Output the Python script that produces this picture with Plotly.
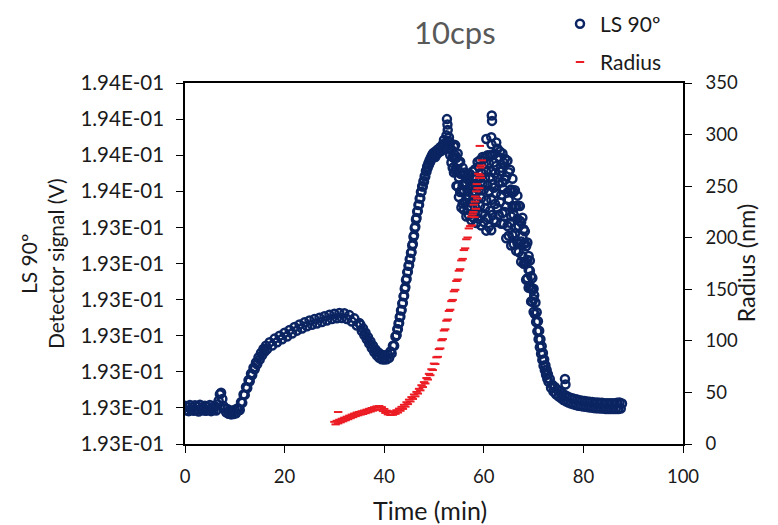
import plotly.graph_objects as go

# ---------------- data: LS 90º detector signal (V) ----------------
LS_TIME = [
    # baseline + small bump
    0.0, 0.25, 0.5, 0.75, 1.0, 1.25, 1.5, 1.75, 2.0, 2.25, 2.5, 2.75, 3.0, 3.25, 3.5, 3.75,
    4.0, 4.25, 4.5, 4.75, 5.0, 5.25, 5.5, 5.75, 6.0, 6.25, 6.5, 6.75, 7.0, 7.25, 7.5, 7.75,
    8.0, 8.25, 8.5, 8.75, 9.0, 9.25, 9.5, 9.75, 10.0, 10.25, 10.5,
    # first rise
    10.75, 11.0, 11.25, 11.5, 11.75, 12.0, 12.25, 12.5, 12.75, 13.0, 13.25, 13.5, 13.75, 14.0,
    14.25, 14.5, 14.75, 15.0, 15.25, 15.5, 15.75, 16.0, 16.25,
    # first hump
    16.5, 17.0, 17.5, 18.0, 18.5, 19.0, 19.5, 20.0, 20.5, 21.0, 21.5, 22.0, 22.5, 23.0, 23.5,
    24.0, 24.5, 25.0, 25.5, 26.0, 26.5, 27.0, 27.5, 28.0, 28.5, 29.0, 29.5, 30.0, 30.5, 31.0,
    31.5, 32.0, 32.5, 33.0, 33.5, 34.0, 34.5, 35.0,
    # valley
    35.25, 35.5, 35.75, 36.0, 36.25, 36.5, 36.75, 37.0, 37.25, 37.5, 37.75, 38.0, 38.25, 38.5,
    38.75, 39.0, 39.25, 39.5, 39.75, 40.0, 40.25, 40.5, 40.75, 41.0, 41.25, 41.5, 41.75, 42.0,
    42.25, 42.5,
    # steep rise
    42.625, 42.75, 42.875, 43.0, 43.125, 43.25, 43.375, 43.5, 43.625, 43.75, 43.875, 44.0,
    44.125, 44.25, 44.375, 44.5, 44.625, 44.75, 44.875, 45.0, 45.125, 45.25, 45.375, 45.5,
    45.625, 45.75, 45.875, 46.0, 46.125, 46.25, 46.375, 46.5, 46.625, 46.75, 46.875, 47.0,
    47.125, 47.25, 47.375, 47.5, 47.625, 47.75, 47.875, 48.0, 48.125, 48.25, 48.375, 48.5,
    48.625, 48.75, 48.875, 49.0, 49.125, 49.25, 49.375, 49.5, 49.625, 49.75, 49.875, 50.0,
    # main peak
    50.25, 50.25, 50.5, 50.75, 51.0, 51.25, 51.5, 51.75, 52.0, 52.0, 52.25, 52.5, 52.5, 52.75,
    52.75, 52.6, 52.7, 53.0, 53.0, 53.25, 53.25, 53.5, 53.5, 53.75, 53.75,
    # decay after the noisy region
    70.125, 70.25, 70.375, 70.5, 70.625, 70.75, 70.875, 71.0, 71.125, 71.25, 71.375, 71.5,
    71.625, 71.75, 71.875, 72.0, 72.125, 72.25, 72.375, 72.5, 72.625, 72.75, 72.875, 73.0,
    73.25, 73.5, 73.75, 74.0,
    # tail
    74.25, 74.5, 74.75, 75.0, 75.25, 75.5, 75.75, 76.0, 76.25, 76.5, 76.75, 77.0, 77.25, 77.5,
    77.75, 78.0, 78.25, 78.5, 78.75, 79.0, 79.25, 79.5, 79.75, 80.0, 80.25, 80.5, 80.75, 81.0,
    81.25, 81.5, 81.75, 82.0, 82.25, 82.5, 82.75, 83.0, 83.25, 83.5, 83.75, 84.0, 84.25, 84.5,
    84.75, 85.0, 85.25, 85.5, 85.75, 86.0, 86.25, 86.5, 86.75, 87.0, 87.25, 87.5, 87.75,
]
LS_SIGNAL = [
    0.192946, 0.192933, 0.192943, 0.192931, 0.192948, 0.192935, 0.192942, 0.192932, 0.192947, 0.192934,
    0.192944, 0.192930, 0.192949, 0.192936, 0.192941, 0.192933, 0.192946, 0.192932, 0.192943, 0.192935,
    0.192948, 0.192931, 0.192942, 0.192934, 0.192945, 0.192933, 0.192950, 0.192960, 0.192978, 0.192982,
    0.192965, 0.192945, 0.192938, 0.192928, 0.192937, 0.192924, 0.192933, 0.192922, 0.192932, 0.192923,
    0.192935, 0.192925, 0.192938,
    0.192938, 0.192934, 0.192956, 0.192954, 0.192977, 0.192976, 0.192998, 0.192995, 0.193017, 0.193014,
    0.193035, 0.193031, 0.193051, 0.193047, 0.193066, 0.193061, 0.193080, 0.193074, 0.193092, 0.193086,
    0.193103, 0.193096, 0.193112,
    0.193103, 0.193122, 0.193113, 0.193132, 0.193122, 0.193140, 0.193130, 0.193148, 0.193138, 0.193156,
    0.193146, 0.193164, 0.193154, 0.193171, 0.193160, 0.193177, 0.193166, 0.193182, 0.193170, 0.193186,
    0.193174, 0.193190, 0.193178, 0.193194, 0.193182, 0.193198, 0.193186, 0.193201, 0.193188, 0.193203,
    0.193189, 0.193202, 0.193186, 0.193197, 0.193179, 0.193188, 0.193168, 0.193175,
    0.193170, 0.193153, 0.193160, 0.193142, 0.193148, 0.193130, 0.193136, 0.193118, 0.193124, 0.193106,
    0.193112, 0.193095, 0.193102, 0.193086, 0.193094, 0.193079, 0.193089, 0.193075, 0.193086, 0.193074,
    0.193086, 0.193075, 0.193088, 0.193079, 0.193096, 0.193091, 0.193112, 0.193112, 0.193138, 0.193141,
    0.193158, 0.193158, 0.193174, 0.193175, 0.193192, 0.193193, 0.193210, 0.193211, 0.193229, 0.193231,
    0.193249, 0.193251, 0.193270, 0.193274, 0.193294, 0.193298, 0.193316, 0.193317, 0.193334, 0.193335,
    0.193352, 0.193353, 0.193370, 0.193371, 0.193390, 0.193394, 0.193414, 0.193418, 0.193438, 0.193442,
    0.193462, 0.193466, 0.193484, 0.193485, 0.193502, 0.193503, 0.193520, 0.193521, 0.193538, 0.193539,
    0.193554, 0.193553, 0.193568, 0.193567, 0.193582, 0.193581, 0.193596, 0.193595, 0.193609, 0.193606,
    0.193618, 0.193614, 0.193626, 0.193622, 0.193634, 0.193630, 0.193641, 0.193636, 0.193646, 0.193640,
    0.193650, 0.193635, 0.193642, 0.193656, 0.193648, 0.193662, 0.193652, 0.193670, 0.193658, 0.193682,
    0.193670, 0.193695, 0.193665, 0.193710, 0.193680, 0.193740, 0.193725, 0.193690, 0.193660, 0.193675,
    0.193640, 0.193655, 0.193620, 0.193635, 0.193605,
    0.193252, 0.193200, 0.193232, 0.193178, 0.193205, 0.193152, 0.193180, 0.193130, 0.193154, 0.193108,
    0.193130, 0.193090, 0.193111, 0.193073, 0.193092, 0.193057, 0.193074, 0.193044, 0.193058, 0.193032,
    0.193045, 0.193021, 0.193033, 0.193012, 0.193020, 0.192996, 0.193004, 0.192985,
    0.192998, 0.192978, 0.192991, 0.192972, 0.192986, 0.192967, 0.192981, 0.192962, 0.192976, 0.192958,
    0.192972, 0.192955, 0.192969, 0.192952, 0.192967, 0.192950, 0.192965, 0.192948, 0.192963, 0.192946,
    0.192961, 0.192945, 0.192960, 0.192944, 0.192959, 0.192943, 0.192958, 0.192942, 0.192957, 0.192941,
    0.192956, 0.192940, 0.192955, 0.192939, 0.192955, 0.192939, 0.192954, 0.192938, 0.192954, 0.192938,
    0.192953, 0.192937, 0.192953, 0.192937, 0.192953, 0.192937, 0.192953, 0.192937, 0.192953, 0.192937,
    0.192954, 0.192937, 0.192955, 0.192938, 0.192952,
]

# noisy region after the main peak: low / middle / high readings at each time
PEAK_TIME = [
    54.0, 54.25, 54.5, 54.75, 55.0, 55.25, 55.5, 55.75, 56.0, 56.25, 56.5, 56.75, 57.0, 57.25,
    57.5, 57.75, 58.0, 58.25, 58.5, 58.75, 59.0, 59.25, 59.5, 59.75, 60.0, 60.25, 60.5, 60.75,
    61.0, 61.25, 61.5, 61.75, 62.0, 62.25, 62.5, 62.75, 63.0, 63.25, 63.5, 63.75, 64.0, 64.25,
    64.5, 64.75, 65.0, 65.25, 65.5, 65.75, 66.0, 66.25, 66.5, 66.75, 67.0, 67.25, 67.5, 67.75,
    68.0, 68.25, 68.5, 68.75, 69.0, 69.25, 69.5, 69.75, 70.0,
]
PEAK_LOW = [
    0.193592, 0.193598, 0.193555, 0.193554, 0.193524, 0.193538, 0.193495, 0.193506, 0.193489, 0.193508,
    0.193470, 0.193489, 0.193474, 0.193496, 0.193460, 0.193480, 0.193466, 0.193496, 0.193452, 0.193481,
    0.193464, 0.193500, 0.193445, 0.193478, 0.193455, 0.193493, 0.193431, 0.193467, 0.193442, 0.193486,
    0.193432, 0.193475, 0.193460, 0.193505, 0.193455, 0.193493, 0.193475, 0.193510, 0.193450, 0.193480,
    0.193451, 0.193483, 0.193410, 0.193444, 0.193417, 0.193453, 0.193390, 0.193418, 0.193394, 0.193424,
    0.193375, 0.193396, 0.193372, 0.193394, 0.193345, 0.193360, 0.193339, 0.193345, 0.193295, 0.193299,
    0.193273, 0.193278, 0.193235, 0.193234, 0.193206,
]
PEAK_MID = [
    0.193632, 0.193640, 0.193595, 0.193601, 0.193578, 0.193589, 0.193543, 0.193557, 0.193543, 0.193559,
    0.193518, 0.193540, 0.193528, 0.193551, 0.193512, 0.193539, 0.193529, 0.193560, 0.193516, 0.193553,
    0.193545, 0.193576, 0.193521, 0.193559, 0.193545, 0.193578, 0.193515, 0.193556, 0.193541, 0.193579,
    0.193516, 0.193560, 0.193550, 0.193590, 0.193535, 0.193578, 0.193565, 0.193595, 0.193530, 0.193565,
    0.193545, 0.193572, 0.193498, 0.193537, 0.193516, 0.193542, 0.193470, 0.193499, 0.193475, 0.193496,
    0.193439, 0.193464, 0.193444, 0.193458, 0.193401, 0.193415, 0.193393, 0.193396, 0.193343, 0.193350,
    0.193323, 0.193320, 0.193271, 0.193268, 0.193242,
]
PEAK_HIGH = [
    0.193664, 0.193668, 0.193633, 0.193645, 0.193620, 0.193622, 0.193588, 0.193605, 0.193585, 0.193592,
    0.193563, 0.193588, 0.193570, 0.193587, 0.193561, 0.193595, 0.193578, 0.193601, 0.193576, 0.193621,
    0.193608, 0.193626, 0.193592, 0.193635, 0.193615, 0.193633, 0.193594, 0.193640, 0.193618, 0.193640,
    0.193595, 0.193640, 0.193620, 0.193645, 0.193610, 0.193658, 0.193635, 0.193650, 0.193605, 0.193645,
    0.193619, 0.193630, 0.193581, 0.193625, 0.193593, 0.193600, 0.193545, 0.193575, 0.193538, 0.193543,
    0.193499, 0.193528, 0.193500, 0.193499, 0.193454, 0.193467, 0.193435, 0.193429, 0.193388, 0.193398,
    0.193361, 0.193348, 0.193305, 0.193300, 0.193270,
]
LS_OUTLIER_TIME = [61.6, 61.65, 61.5, 61.55, 60.5, 62.5, 76.3, 76.4]
LS_OUTLIER_SIGNAL = [0.193750, 0.193735, 0.193690, 0.193670, 0.193685, 0.193675, 0.193020, 0.193005]

# ---------------- data: Radius (nm) ----------------
RADIUS_TIME = [
    30.0, 30.25, 30.5, 30.75, 31.0, 31.25, 31.5, 31.75, 32.0, 32.25, 32.5, 32.75, 33.0, 33.25,
    33.5, 33.75, 34.0, 34.25, 34.5, 34.75, 35.0, 35.25, 35.5, 35.75, 36.0, 36.25, 36.5, 36.75,
    37.0, 37.25, 37.5, 37.75, 38.0, 38.25, 38.5, 38.75, 39.0, 39.25, 39.5, 39.75, 40.0, 40.25,
    40.5, 40.75, 41.0, 41.25, 41.5, 41.75, 42.0, 42.25, 42.5, 42.75, 43.0, 43.25, 43.5, 43.75,
    44.0, 44.25, 44.5, 44.75, 45.0, 45.25, 45.5, 45.75, 46.0, 46.25, 46.5, 46.75, 47.0, 47.25,
    47.5, 47.75, 48.0, 48.25, 48.5, 48.75, 49.0, 49.25, 49.5, 49.75, 50.0, 50.25, 50.5, 50.75,
    51.0, 51.25, 51.5, 51.75, 52.0, 52.25, 52.5, 52.75, 53.0, 53.25, 53.5, 53.75, 54.0, 54.25,
    54.5, 54.75, 55.0, 55.25, 55.5, 55.75, 56.0, 56.25, 56.5, 56.75, 57.0, 57.25, 57.5, 57.75,
    58.0, 58.25, 58.5, 58.75, 59.0, 59.25, 59.5,
    30.75, 57.6, 57.9, 58.1, 58.3, 58.4, 58.6, 58.7, 58.9, 59.1, 59.2, 59.3, 59.4, 59.6,
]
RADIUS_NM = [
    21.5, 19.0, 22.5, 20.0, 23.5, 21.0, 24.5, 22.0, 25.5, 23.0, 26.5, 24.0, 27.5, 25.0,
    28.5, 26.0, 29.5, 27.0, 30.5, 27.8, 31.1, 28.5, 31.8, 29.1, 32.5, 29.9, 33.3, 30.7,
    34.1, 31.5, 34.9, 32.3, 35.7, 33.1, 36.5, 33.7, 36.8, 33.5, 35.8, 31.9, 34.0, 30.1,
    32.3, 28.7, 31.3, 28.1, 31.1, 28.3, 31.7, 29.2, 32.8, 30.5, 34.3, 32.2, 36.0, 34.0,
    38.0, 36.2, 40.5, 38.7, 43.0, 41.2, 45.5, 43.7, 48.0, 46.2, 50.5, 48.9, 53.5, 52.0,
    57.0, 55.2, 60.0, 58.7, 64.0, 62.5, 68.0, 66.7, 72.5, 71.7, 78.0, 77.5, 84.0, 84.5,
    92.0, 92.7, 100.5, 101.7, 110.0, 111.2, 119.5, 120.7, 129.0, 130.2, 138.5, 139.7, 148.0, 149.5,
    158.0, 159.5, 168.0, 169.5, 178.0, 179.5, 188.0, 189.7, 198.5, 200.2, 209.0, 211.2, 220.5, 222.7,
    232.0, 235.0, 245.0, 248.0, 258.0, 260.5, 270.0,
    31.0, 212.0, 225.0, 220.0, 240.0, 228.0, 252.0, 238.0, 262.0, 248.0, 289.0, 268.0, 258.0, 275.0,
]

# ---------------- axes ----------------
LS_TICK_VALUES = [0.19284, 0.19294, 0.19304, 0.19314, 0.19324, 0.19334,
                  0.19344, 0.19354, 0.19364, 0.19374, 0.19384]
LS_TICK_LABELS = ["1.93E-01", "1.93E-01", "1.93E-01", "1.93E-01", "1.93E-01", "1.93E-01",
                  "1.93E-01", "1.94E-01", "1.94E-01", "1.94E-01", "1.94E-01"]
TIME_TICKS = [0, 20, 40, 60, 80, 100]
RADIUS_TICKS = [0, 50, 100, 150, 200, 250, 300, 350]

# ---------------- figure ----------------
FONT = "Lato"
NAVY = "#0B2462"
RED = "#EC1C24"
TEXT = "#1a1a1a"

ls_x = LS_TIME + PEAK_TIME + PEAK_TIME + PEAK_TIME + LS_OUTLIER_TIME
ls_y = LS_SIGNAL + PEAK_LOW + PEAK_MID + PEAK_HIGH + LS_OUTLIER_SIGNAL

fig = go.Figure()
fig.add_trace(go.Scatter(
    x=ls_x, y=ls_y, mode="markers", name="LS 90º", yaxis="y", legendgroup="a",
    marker=dict(symbol="circle-open", size=8, color=NAVY, line=dict(width=2.5, color=NAVY)),
))
fig.add_trace(go.Scatter(
    x=RADIUS_TIME, y=RADIUS_NM, mode="markers", name="Radius", yaxis="y2", legendgroup="b",
    marker=dict(symbol="line-ew", size=6, color=RED, line=dict(width=2, color=RED)),
))

axis_common = dict(showline=True, linecolor="black", linewidth=1.5, ticks="outside",
                   ticklen=7, tickcolor="black", tickwidth=1.2, showgrid=False, zeroline=False)

fig.update_layout(
    width=778, height=525,
    margin=dict(l=185, r=95, t=83, b=81, autoexpand=False),
    paper_bgcolor="white", plot_bgcolor="white",
    font=dict(family=FONT, size=18, color=TEXT),
    xaxis=dict(range=[0, 100], tickvals=TIME_TICKS, mirror=True, ticklabelstandoff=8,
               tickfont=dict(family=FONT, size=18.5, color=TEXT), **axis_common),
    yaxis=dict(range=[LS_TICK_VALUES[0], LS_TICK_VALUES[-1]], tickvals=LS_TICK_VALUES,
               ticktext=LS_TICK_LABELS, ticklabelstandoff=8,
               tickfont=dict(family=FONT, size=20.5, color=TEXT), **axis_common),
    yaxis2=dict(range=[0, 350], tickvals=RADIUS_TICKS, overlaying="y", side="right",
                ticklabelstandoff=10, tickfont=dict(family=FONT, size=18.5, color=TEXT),
                **axis_common),
    legend=dict(x=0.753, y=1.22, xanchor="left", yanchor="top", bgcolor="rgba(0,0,0,0)",
                font=dict(family=FONT, size=21, color=TEXT), tracegroupgap=8),
    showlegend=True,
    annotations=[
        dict(text="10cps", xref="paper", yref="paper", x=0.542, y=1.141, xanchor="center",
             yanchor="middle", showarrow=False, font=dict(family=FONT, size=31, color="#595959")),
        dict(text="Time (min)", xref="paper", yref="paper", x=0.492, y=-0.183, xanchor="center",
             yanchor="middle", showarrow=False, font=dict(family=FONT, size=25, color=TEXT)),
        dict(text="LS 90º<br>Detector signal (V)", xref="paper", yref="paper", x=-0.288, y=0.5,
             xanchor="center", yanchor="middle", textangle=-90, showarrow=False,
             font=dict(family=FONT, size=21, color=TEXT)),
        dict(text="Radius (nm)", xref="paper", yref="paper", x=1.1245, y=0.5, xanchor="center",
             yanchor="middle", textangle=-90, showarrow=False,
             font=dict(family=FONT, size=23.5, color=TEXT)),
    ],
)

fig.write_html("out.html")
